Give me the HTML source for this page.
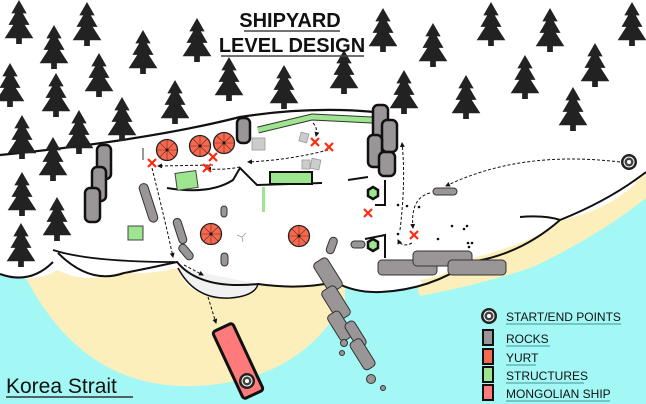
<!DOCTYPE html>
<html><head><meta charset="utf-8"><style>
html,body{margin:0;padding:0;background:#a3f7f5;}
svg{display:block}
text{font-family:"Liberation Sans",sans-serif;}
</style></head><body>
<svg width="646" height="404" viewBox="0 0 646 404" xmlns="http://www.w3.org/2000/svg">
<defs>
<symbol id="t" viewBox="-16 0 32 46" overflow="visible">
<polygon fill="#222" points="0,0 -8,14 -4,14 -11,26 -6,26 -15,40 -3,40 -3,46 3,46 3,40 15,40 6,26 11,26 4,14 8,14"/>
</symbol>
<marker id="a" viewBox="0 0 10 10" refX="8" refY="5" markerWidth="5" markerHeight="5" orient="auto"><path d="M0,0 L10,5 L0,10 z" fill="#111"/></marker>
<g id="yurt"><circle r="10.5" fill="#f4694f" stroke="#222" stroke-width="1.3"/><path d="M-10,0H10M0,-10V10M-7,-7L7,7M7,-7L-7,7" stroke="#7a2a1a" stroke-width="0.6"/><circle r="1.5" fill="#111"/></g>
<g id="x"><path d="M-4,-4L4,4M4,-4L-4,4" stroke="#ff2a10" stroke-width="2.2"/></g>
<g id="flower"><circle r="8" fill="#222"/><circle r="5.5" fill="#fff"/><circle r="4.5" fill="#444"/><circle r="2" fill="#fff"/></g>
</defs>
<rect width="646" height="404" fill="#a3f7f5"/>
<!-- sand -->
<path d="M22,270 Q80,390 195,386 Q300,382 345,300 L345,255 L22,255 Z" fill="#fcefbb"/>
<path d="M646,165 L646,198 Q600,235 533,267 Q480,285 420,296 L410,265 Q560,240 646,165 Z" fill="#fcefbb"/>
<!-- white land -->
<path d="M0,0 H646 V172 Q615,210 560,220 Q540,240 473,258 Q450,275 420,280 Q430,290 380,292 Q355,293 335,282 Q300,290 258,284 Q250,300 215,298 Q185,292 178,268 Q140,276 120,272 Q85,285 58,270 Q30,285 0,274 Z" fill="#fff"/>
<path d="M178,268 Q195,300 230,298 Q255,296 258,284" fill="#f1f1f1" stroke="#111" stroke-width="1.5"/>
<path d="M0,274 Q30,285 53,262" fill="none" stroke="#111" stroke-width="2"/>
<path d="M58,253 Q90,285 124,273 Q150,268 177,262 Q200,290 258,284 Q300,290 335,282 Q355,293 380,292 Q430,290 470,262 Q520,255 560,220 Q610,200 646,172" fill="none" stroke="#111" stroke-width="2"/>
<path d="M520,217 Q545,215 560,220" fill="none" stroke="#111" stroke-width="2"/>
<!-- island top lines -->
<path d="M0,155 Q150,140 240,117 Q310,106 375,112" fill="none" stroke="#111" stroke-width="2.2"/>
<path d="M53,250 Q90,262 175,262" fill="none" stroke="#111" stroke-width="1.8"/>
<path d="M167,188 Q210,195 233,180 L240,168 L257,185 L322,183" fill="none" stroke="#111" stroke-width="2"/>
<path d="M143,148 V160" stroke="#333" stroke-width="1"/>
<!-- trees -->
<g>
<use href="#t" x="3" y="0" width="32" height="44"/>
<use href="#t" x="71" y="2" width="32" height="44"/>
<use href="#t" x="38" y="25" width="32" height="44"/>
<use href="#t" x="127" y="30" width="32" height="44"/>
<use href="#t" x="181" y="18" width="32" height="44"/>
<use href="#t" x="-6" y="63" width="32" height="44"/>
<use href="#t" x="83" y="53" width="32" height="44"/>
<use href="#t" x="40" y="73" width="32" height="44"/>
<use href="#t" x="106" y="97" width="32" height="44"/>
<use href="#t" x="159" y="80" width="32" height="44"/>
<use href="#t" x="213" y="57" width="32" height="44"/>
<use href="#t" x="268" y="65" width="32" height="44"/>
<use href="#t" x="328" y="50" width="32" height="44"/>
<use href="#t" x="367" y="8" width="32" height="44"/>
<use href="#t" x="417" y="23" width="32" height="44"/>
<use href="#t" x="388" y="70" width="32" height="44"/>
<use href="#t" x="450" y="75" width="32" height="44"/>
<use href="#t" x="475" y="2" width="32" height="44"/>
<use href="#t" x="534" y="8" width="32" height="44"/>
<use href="#t" x="509" y="55" width="32" height="44"/>
<use href="#t" x="579" y="43" width="32" height="44"/>
<use href="#t" x="557" y="87" width="32" height="44"/>
<use href="#t" x="616" y="2" width="32" height="44"/>
<use href="#t" x="6" y="115" width="32" height="44"/>
<use href="#t" x="37" y="137" width="32" height="44"/>
<use href="#t" x="63" y="110" width="32" height="44"/>
<use href="#t" x="6" y="172" width="32" height="44"/>
<use href="#t" x="41" y="197" width="32" height="44"/>
<use href="#t" x="5" y="223" width="32" height="44"/>
</g>
<!-- title -->
<text x="290" y="27" font-size="20" font-weight="bold" text-anchor="middle" fill="#111">SHIPYARD</text>
<line x1="244" y1="31" x2="340" y2="31" stroke="#444" stroke-width="1.5"/>
<text x="292" y="52" font-size="20" font-weight="bold" text-anchor="middle" fill="#111">LEVEL DESIGN</text>
<line x1="221" y1="56" x2="364" y2="56" stroke="#444" stroke-width="1.5"/>
<!-- structures -->
<polyline points="258,130 312,117 372,120" fill="none" stroke="#333" stroke-width="7" stroke-linejoin="round"/>
<polyline points="258,130 312,117 372,120" fill="none" stroke="#9de58f" stroke-width="5" stroke-linejoin="round"/>
<rect x="176" y="172" width="21" height="17" fill="#9de58f" stroke="#444" stroke-width="1" transform="rotate(-8 186 180)"/>
<rect x="128" y="226" width="15" height="14" fill="#9de58f" stroke="#444" stroke-width="1"/>
<rect x="262" y="187" width="3" height="25" fill="#9de58f"/>
<rect x="270" y="172" width="42" height="12" fill="#9de58f" stroke="#111" stroke-width="2"/>
<!-- light squares -->
<rect x="252" y="138" width="13" height="12" fill="#ccc" stroke="#999" stroke-width="0.8"/>
<rect x="300" y="133" width="8" height="9" fill="#ccc" stroke="#999" stroke-width="0.8" transform="rotate(15 304 137)"/>
<rect x="302" y="160" width="8" height="9" fill="#ccc" stroke="#999" stroke-width="0.8"/>
<rect x="311" y="159" width="9" height="10" fill="#ccc" stroke="#999" stroke-width="0.8" transform="rotate(12 315 164)"/>
<!-- L structures -->
<path d="M348,180 L368,177 M385,180 V205 H375 M365,239 L385,235 V258" fill="none" stroke="#111" stroke-width="2"/>
<polygon points="373,187 378,190 378,196 373,199 368,196 368,190" fill="#9de58f" stroke="#111" stroke-width="2.5"/>
<polygon points="373,239 378,242 378,248 373,251 368,248 368,242" fill="#9de58f" stroke="#111" stroke-width="2.5"/>
<!-- yurts -->
<use href="#yurt" x="167" y="150"/>
<use href="#yurt" x="200" y="146"/>
<use href="#yurt" x="224" y="143"/>
<use href="#yurt" x="211" y="234"/>
<use href="#yurt" x="299" y="236"/>
<path d="M242,237 L246,233 M242,237 L237,235 M242,237 L243,242" stroke="#999" stroke-width="0.8"/>
<!-- rocks thick -->
<g fill="#9a9596" stroke="#111" stroke-width="2.5">
<rect x="97" y="145" width="14" height="34" rx="5"/>
<rect x="92" y="167" width="14" height="34" rx="5"/>
<rect x="85" y="188" width="15" height="34" rx="5"/>
<rect x="237" y="118" width="13" height="25" rx="5"/>
<rect x="373" y="105" width="15" height="40" rx="5"/>
<rect x="382" y="120" width="15" height="32" rx="5"/>
<rect x="368" y="135" width="14" height="32" rx="5"/>
<rect x="379" y="152" width="16" height="24" rx="5"/>
</g>
<!-- rocks thin -->
<g fill="#9a9596" stroke="#333" stroke-width="1">
<rect x="144" y="183" width="9" height="40" rx="4.5" transform="rotate(-18 148 203)"/>
<rect x="176" y="218" width="8" height="26" rx="4" transform="rotate(-18 180 231)"/>
<rect x="182" y="243" width="8" height="18" rx="4" transform="rotate(-40 186 252)"/>
<rect x="221" y="206" width="6" height="11" rx="3"/>
<rect x="221" y="253" width="7" height="13" rx="3.5"/>
<rect x="328" y="237" width="8" height="17" rx="4" transform="rotate(20 332 245)"/>
<rect x="351" y="241" width="14" height="7" rx="3.5"/>
<rect x="433" y="188" width="24" height="7" rx="3.5"/>
<rect x="378" y="260" width="59" height="15" rx="4"/>
<rect x="413" y="251" width="59" height="15" rx="4"/>
<rect x="448" y="260" width="58" height="15" rx="4"/>
<rect x="320" y="258" width="16" height="34" rx="4" transform="rotate(-32 328 275)"/>
<rect x="328" y="286" width="16" height="34" rx="4" transform="rotate(-32 336 303)"/>
<rect x="333" y="311" width="14" height="30" rx="4" transform="rotate(-32 340 326)"/>
<rect x="350" y="320" width="11" height="28" rx="4" transform="rotate(-32 356 334)"/>
<rect x="356" y="338" width="13" height="32" rx="4" transform="rotate(-32 363 354)"/>
<circle cx="344" cy="343" r="3.5"/><circle cx="342" cy="353" r="2.5"/>
<circle cx="371" cy="379" r="4.5"/><circle cx="383" cy="388" r="2.5"/>
</g>
<!-- dashed paths -->
<g fill="none" stroke="#111" stroke-width="1" stroke-dasharray="3,2" marker-end="url(#a)">
<path d="M620,162 Q520,150 446,186"/>
<path d="M430,193 Q410,198 413,228"/>
<path d="M400,230 Q406,180 402,143"/>
<path d="M412,243 Q402,248 398,240"/>
<path d="M328,150 Q290,160 248,162"/>
<path d="M213,165 L158,166"/>
<path d="M240,167 Q225,170 207,169"/>
<path d="M152,168 Q165,220 173,257"/>
<path d="M184,265 L203,275"/>
<path d="M208,297 L216,323"/>
<path d="M313,123 Q318,128 316,136"/>
</g>
<!-- red x -->
<use href="#x" x="152" y="163"/><use href="#x" x="213" y="157"/><use href="#x" x="207" y="168"/>
<use href="#x" x="315" y="142"/><use href="#x" x="329" y="147"/><use href="#x" x="368" y="213"/><use href="#x" x="414" y="235"/>
<!-- dots -->
<g fill="#111">
<circle cx="398" cy="205" r="1.3"/><circle cx="407" cy="206" r="1.3"/><circle cx="419" cy="207" r="1.3"/>
<circle cx="398" cy="234" r="1.3"/><circle cx="438" cy="239" r="1.3"/><circle cx="452" cy="226" r="1.3"/>
<circle cx="464" cy="229" r="1.3"/><circle cx="467" cy="226" r="1.3"/><circle cx="468" cy="243" r="1.3"/>
<circle cx="472" cy="243" r="1.3"/><circle cx="469" cy="247" r="1.3"/>
</g>
<use href="#flower" x="629" y="162"/>
<!-- ship -->
<g transform="translate(238,361) rotate(-25)">
<rect x="-11" y="-37" width="22" height="74" rx="3" fill="#ff7b7b" stroke="#111" stroke-width="3"/>
</g>
<use href="#flower" x="247" y="381" transform="scale(1)"/>
<!-- legend -->
<use href="#flower" x="489" y="316"/>
<rect x="483" y="330" width="10" height="15" fill="#9a9596" stroke="#111" stroke-width="2"/>
<rect x="483" y="349" width="10" height="15" fill="#f4694f" stroke="#111" stroke-width="2"/>
<rect x="483" y="367" width="10" height="15" fill="#9de58f" stroke="#111" stroke-width="2"/>
<rect x="483" y="385" width="10" height="15" fill="#ff7b7b" stroke="#111" stroke-width="2"/>
<g font-size="12" fill="#111">
<text x="506" y="321">START/END POINTS</text>
<text x="506" y="343">ROCKS</text>
<text x="506" y="362">YURT</text>
<text x="506" y="380">STRUCTURES</text>
<text x="506" y="398">MONGOLIAN SHIP</text>
</g>
<g stroke="#5aa" stroke-width="1.3">
<line x1="506" y1="324" x2="621" y2="324"/><line x1="506" y1="346" x2="550" y2="346"/>
<line x1="506" y1="365" x2="536" y2="365"/><line x1="506" y1="383" x2="584" y2="383"/>
<line x1="506" y1="401" x2="610" y2="401"/>
</g>
<text x="6" y="393" font-size="21" fill="#111">Korea Strait</text>
<line x1="6" y1="397" x2="133" y2="397" stroke="#333" stroke-width="1.5"/>
</svg>
</body></html>
